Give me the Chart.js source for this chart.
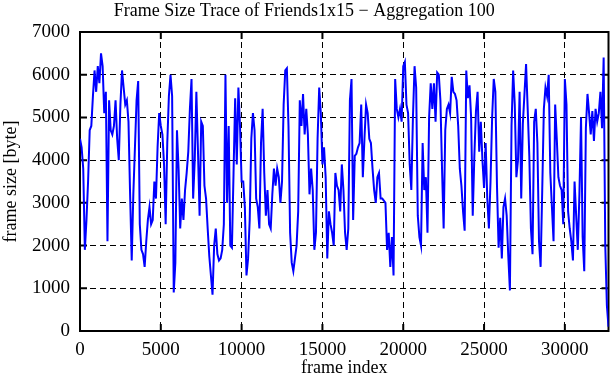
<!DOCTYPE html>
<html>
<head>
<meta charset="utf-8">
<script src="https://cdn.jsdelivr.net/npm/chart.js@4/dist/chart.umd.min.js"></script>
<style>
html, body { margin: 0; padding: 0; background: #fff; }
</style>
</head>
<body>
<canvas id="traceChart" width="611" height="380"></canvas>
<script>
// one value per 100 frames (aggregation 100)
var aggregation = 100;
var frameSize = [
	4500, 4300, 3800, 1900, 2600, 3500, 4700, 4800, 5500, 6100,
	5600, 6200, 5800, 6500, 6200, 5100, 5600, 2100, 5400, 4700,
	4600, 4800, 5400, 4500, 4000, 5300, 6100, 5700, 5300, 5400,
	4900, 3200, 1650, 3200, 4300, 5400, 5850, 2500, 1900, 1800,
	1500, 2100, 2600, 2900, 2500, 2600, 3500, 3100, 4300, 5100,
	4800, 4600, 3900, 2500, 4400, 5500, 6000, 5500, 900, 1600,
	4700, 3800, 2400, 3100, 2600, 3300, 3700, 4200, 5200, 5900,
	3100, 4000, 5600, 4200, 2700, 4900, 4800, 3400, 3100, 2400,
	1750, 1300, 850, 2000, 2400, 1800, 1650, 1700, 1900, 2500,
	6000, 3000, 4800, 2000, 1950, 3700, 5450, 3900, 5700, 4800,
	3500, 3500, 2900, 1300, 1700, 2600, 4500, 5100, 4700, 3100,
	2900, 2400, 4400, 5200, 3700, 2700, 3300, 2500, 2400, 3200,
	3800, 3400, 3800, 3600, 3000, 3500, 5300, 6100, 6150, 4800,
	2300, 1600, 1400, 1700, 2000, 2800, 5400, 4800, 5550, 4600,
	5200, 4600, 3200, 3800, 3300, 1900, 2300, 4500, 5700, 5100,
	3900, 4300, 3600, 1700, 2800, 2500, 2300, 2000, 3700, 3400,
	3300, 2800, 3900, 3300, 2300, 1900, 2400, 5400, 5900, 2600,
	4100, 4150, 4300, 4400, 5300, 3600, 4500, 5300, 5100, 4500,
	4400, 3800, 3300, 3000, 3600, 3700, 3100, 3100, 3050, 3000,
	1900, 2300, 1500, 2200, 1300, 5900, 5200, 5000, 5200, 4900,
	6200, 6300, 5300, 5100, 3900, 3300, 5000, 6200, 5700, 2700,
	2200, 2000, 4400, 3300, 3600, 2300, 5000, 5800, 5200, 5800,
	4900, 6050, 6000, 5400, 3800, 2400, 4700, 5200, 5300, 5100,
	5950, 5600, 5550, 5400, 4800, 3800, 3400, 2800, 2350, 6100,
	5450, 5750, 5000, 2700, 4100, 5150, 5600, 4200, 4900, 4000,
	3350, 4400, 3100, 2400, 3500, 5000, 5900, 5600, 3400, 1950,
	2650, 1700, 2900, 3100, 2700, 1750, 950, 4800, 6100, 5300,
	3600, 4000, 5600, 3100, 4850, 5550, 6250, 5200, 4100, 2400,
	1800, 4900, 5200, 4400, 2100, 1500, 3300, 5200, 5700, 5500,
	6000, 3700, 2900, 2100, 5300, 4500, 3600, 3400, 3300, 2500,
	5900, 5300, 2800, 2400, 2100, 1650, 3500, 2700, 1900, 3200,
	5000, 2200, 1400, 4750, 5550, 5100, 4600, 5150, 4450, 5200,
	4900, 5100, 5600, 4750, 6400, 2000, 600, 100
];
var xTicks = [0, 5000, 10000, 15000, 20000, 25000, 30000];
var yTicks = [0, 1000, 2000, 3000, 4000, 5000, 6000, 7000];
var xMax = 32700;

var points = frameSize.map(function(v, i) {
	return { x: i * aggregation, y: v };
});

var serif = 'Liberation Serif';

// gnuplot style frame with ticks pointing inward
var frameTicks = {
	id: 'frameTicks',
	beforeDatasetsDraw: function(chart) {
		var ctx = chart.ctx;
		var a = chart.chartArea;
		var xs = chart.scales.x;
		var ys = chart.scales.y;
		var len = 7;
		ctx.save();
		ctx.strokeStyle = '#000';
		ctx.lineWidth = 2;
		ctx.beginPath();
		xTicks.forEach(function(v) {
			var px = xs.getPixelForValue(v);
			ctx.moveTo(px, a.bottom);
			ctx.lineTo(px, a.bottom - len);
			ctx.moveTo(px, a.top);
			ctx.lineTo(px, a.top + len);
		});
		yTicks.forEach(function(v) {
			var py = ys.getPixelForValue(v);
			ctx.moveTo(a.left, py);
			ctx.lineTo(a.left + len, py);
			ctx.moveTo(a.right, py);
			ctx.lineTo(a.right - len, py);
		});
		ctx.stroke();
		ctx.strokeRect(a.left, a.top, a.right - a.left, a.bottom - a.top);
		ctx.restore();
	}
};

var ctx = document.getElementById('traceChart').getContext('2d');

var traceChart = new Chart(ctx, {
	type: 'line',
	data: {
		datasets: [
			{
				label: 'Friends1x15',
				data: points,
				borderColor: '#0000ff',
				borderWidth: 2,
				pointRadius: 0,
				tension: 0,
				fill: false
			}
		]
	},
	options: {
		responsive: false,
		animation: false,
		devicePixelRatio: 1,
		layout: {
			padding: { left: 0, right: 2.5, top: 0, bottom: 0 }
		},
		plugins: {
			legend: { display: false },
			tooltip: { enabled: false },
			title: {
				display: true,
				text: 'Frame Size Trace of Friends1x15 \u2212 Aggregation 100',
				color: '#000',
				font: { family: serif, size: 18, weight: 'normal', lineHeight: 1.2 },
				padding: { top: 0, bottom: 10.4 }
			}
		},
		scales: {
			x: {
				type: 'linear',
				min: 0,
				max: xMax,
				afterBuildTicks: function(scale) {
					scale.ticks = xTicks.map(function(v) { return { value: v }; });
				},
				afterFit: function(scale) {
					scale.height = 49;
				},
				ticks: {
					color: '#000',
					font: { family: serif, size: 19 },
					padding: 8,
					maxRotation: 0,
					autoSkip: false,
					callback: function(v) { return String(v); }
				},
				grid: {
					color: '#000',
					lineWidth: 1,
					drawTicks: false
				},
				border: { display: false, dash: [6, 4] },
				title: {
					display: true,
					text: 'frame index',
					color: '#000',
					font: { family: serif, size: 18, lineHeight: 1.2 },
					padding: { top: 0, bottom: 1 }
				}
			},
			y: {
				min: 0,
				max: 7000,
				afterBuildTicks: function(scale) {
					scale.ticks = yTicks.map(function(v) { return { value: v }; });
				},
				afterFit: function(scale) {
					scale.width = 80;
				},
				ticks: {
					color: '#000',
					font: { family: serif, size: 19 },
					padding: 10,
					callback: function(v) { return String(v); }
				},
				grid: {
					color: '#000',
					lineWidth: 1,
					drawTicks: false
				},
				border: { display: false, dash: [6, 4] },
				title: {
					display: true,
					text: 'frame size [byte]',
					color: '#000',
					font: { family: serif, size: 18, lineHeight: 1.2 },
					padding: { top: 0, bottom: 0 }
				}
			}
		}
	},
	plugins: [frameTicks]
});
</script>
</body>
</html>
